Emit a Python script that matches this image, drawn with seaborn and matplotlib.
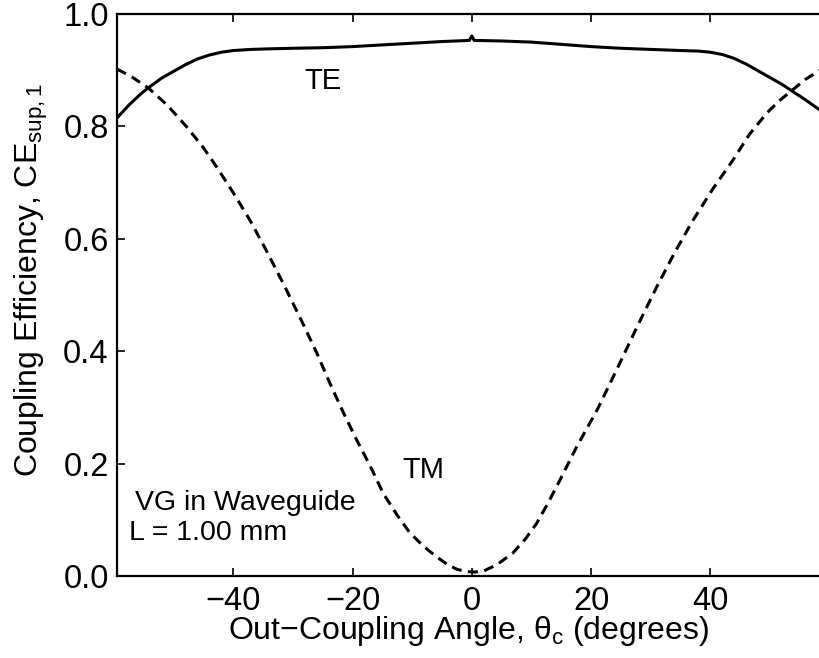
import numpy as np
import pandas as pd
import seaborn as sns
from matplotlib import pyplot as plt

# values
te_angle = [-59.5, -57.5, -55.5, -54.2, -52.0, -50.0, -48.0, -46.0, -44.0, -42.0,
            -40.0, -37.0, -34.0, -30.0, -25.0, -20.0, -15.0, -10.0, -5.0, -0.4,
            0.0, 0.4, 5.0, 10.0, 15.0, 20.0, 25.0, 30.0, 35.0, 38.0,
            40.0, 42.0, 44.0, 46.0, 48.0, 50.0, 52.0, 54.0, 56.0, 58.4]
te_eff = [0.815, 0.838, 0.858, 0.869, 0.886, 0.898, 0.910, 0.920, 0.927, 0.932,
          0.935, 0.937, 0.938, 0.939, 0.940, 0.942, 0.945, 0.948, 0.951, 0.953,
          0.961, 0.953, 0.952, 0.950, 0.946, 0.942, 0.939, 0.937, 0.935, 0.934,
          0.932, 0.928, 0.921, 0.911, 0.899, 0.887, 0.875, 0.861, 0.847, 0.829]

tm_angle = [-59.5, -57.0, -54.2, -51.0, -47.8, -45.0, -42.8, -40.0, -37.2, -34.5,
            -31.5, -28.5, -26.0, -23.8, -21.5, -19.3, -17.0, -14.9, -12.5, -10.4,
            -8.0, -5.9, -4.0, -2.5, -1.0, 0.5, 2.0, 4.2, 6.9, 9.0,
            10.9, 12.8, 14.8, 17.6, 21.0, 24.3, 27.7, 31.0, 34.0, 37.1,
            40.5, 43.8, 46.5, 49.5, 51.5, 53.8, 56.0, 58.4]
tm_eff = [0.902, 0.888, 0.868, 0.837, 0.799, 0.762, 0.728, 0.682, 0.633, 0.580,
          0.518, 0.453, 0.397, 0.343, 0.290, 0.242, 0.195, 0.148, 0.108, 0.077,
          0.052, 0.034, 0.020, 0.012, 0.008, 0.007, 0.009, 0.020, 0.041, 0.066,
          0.094, 0.130, 0.171, 0.230, 0.295, 0.367, 0.443, 0.514, 0.575, 0.633,
          0.690, 0.740, 0.785, 0.824, 0.845, 0.865, 0.884, 0.900]

y_ticks = [0.0, 0.2, 0.4, 0.6, 0.8, 1.0]
x_ticks = [-40, -20, 0, 20, 40]

sns.set_theme(style='ticks')
plt.rcParams['font.family'] = ['Liberation Sans', 'DejaVu Sans']
plt.rcParams['mathtext.fontset'] = 'custom'
plt.rcParams['mathtext.rm'] = 'Liberation Sans'
plt.rcParams['mathtext.it'] = 'Liberation Sans'
plt.rcParams['mathtext.default'] = 'rm'
for key in ['text.color', 'axes.labelcolor', 'xtick.color', 'ytick.color', 'axes.edgecolor']:
    plt.rcParams[key] = 'black'

fig = plt.figure(figsize=(8.2, 6.58), dpi=100)
ax = fig.add_axes([117 / 820, 82 / 658, 703 / 820, 562 / 658])

df_te = pd.DataFrame({'angle': te_angle, 'ce': te_eff})
df_tm = pd.DataFrame({'angle': tm_angle, 'ce': tm_eff})
sns.lineplot(data=df_te, x='angle', y='ce', ax=ax, color='black', lw=2.2, sort=False)
sns.lineplot(data=df_tm, x='angle', y='ce', ax=ax, color='black', lw=2.2,
             linestyle=(0, (3.3, 2.1)), sort=False)

ax.set_xlim(-59.5, 58.4)
ax.set_ylim(0, 1.0)
ax.set_xticks(x_ticks)
ax.set_yticks(y_ticks)
ax.set_yticklabels([f'{v:.1f}' for v in y_ticks])
ax.tick_params(direction='in', length=6, width=1.2, labelsize=23.5, top=True)
ax.tick_params(axis='x', pad=7)
ax.tick_params(axis='y', pad=6)
for side in ['left', 'bottom', 'top']:
    ax.spines[side].set_linewidth(1.6)
ax.spines['right'].set_visible(False)

ax.set_xlabel(r'Out$-$Coupling Angle, $\theta_{\mathrm{c}}$ (degrees)', fontsize=23)
ax.xaxis.set_label_coords(0.5, -0.068)
ax.set_ylabel(r'Coupling Efficiency, CE$_{\mathrm{sup,1}}$', fontsize=23)
ax.yaxis.set_label_coords(-0.095, 0.527)

ax.text(-28, 0.881, 'TE', fontsize=21, va='center')
ax.text(-11.6, 0.189, 'TM', fontsize=21, va='center')
ax.text(-56.5, 0.130, 'VG in Waveguide', fontsize=20.5, va='center')
ax.text(-57.5, 0.077, 'L = 1.00 mm', fontsize=20.5, va='center')

plt.savefig('out.png', dpi=100)
